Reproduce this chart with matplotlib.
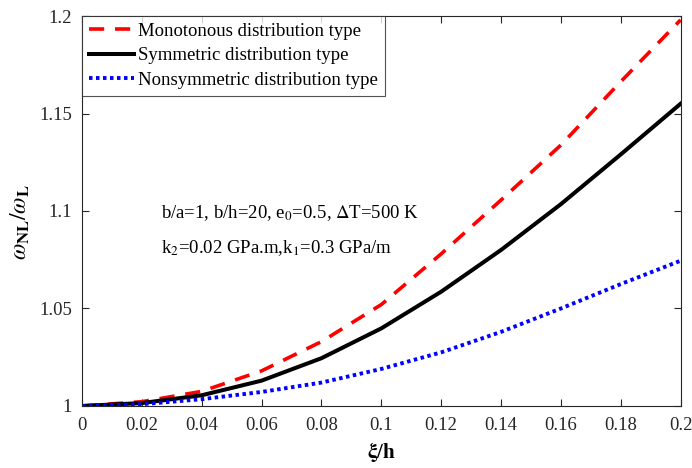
import matplotlib
matplotlib.use('Agg')
import matplotlib.pyplot as plt
from matplotlib.ticker import FuncFormatter

# xi/h values
xi = [0.0, 0.02, 0.04, 0.06, 0.08, 0.10, 0.12, 0.14, 0.16, 0.18, 0.20]

# frequency ratio
mono = [1.0, 1.0022, 1.0075, 1.0180, 1.0330, 1.0520, 1.0780, 1.1056, 1.1338, 1.1663, 1.1980]
sym = [1.0, 1.0015, 1.0055, 1.0130, 1.0245, 1.0398, 1.0586, 1.0800, 1.1035, 1.1290, 1.1550]
nonsym = [1.0, 1.0009, 1.0035, 1.0072, 1.0120, 1.0190, 1.0275, 1.0380, 1.0500, 1.0625, 1.0745]

labels = ['Monotonous distribution type',
          'Symmetric distribution type',
          'Nonsymmetric distribution type']

xticks = [0, 0.02, 0.04, 0.06, 0.08, 0.1, 0.12, 0.14, 0.16, 0.18, 0.2]
yticks = [1, 1.05, 1.1, 1.15, 1.2]

plt.rcParams['font.family'] = ['Liberation Serif', 'DejaVu Serif']
plt.rcParams['mathtext.fontset'] = 'stix'

fig = plt.figure(figsize=(6.92, 4.68), dpi=100)
ax = fig.add_axes([0.1185, 0.1325, 0.865, 0.8333])

ax.plot(xi, mono, color='red', linewidth=2.6, linestyle=(0, (4.2, 3.0)), label=labels[0])
ax.plot(xi, sym, color='black', linewidth=2.9, linestyle='-', label=labels[1])
ax.plot(xi, nonsym, color='blue', linewidth=2.8, linestyle=(0, (0.9, 0.9)),
        dash_capstyle='butt', label=labels[2])

ax.set_xlim(0, 0.2)
ax.set_ylim(1, 1.2)
ax.set_xticks(xticks)
ax.set_yticks(yticks)
fmt = FuncFormatter(lambda v, p: '%g' % round(v, 4))
ax.xaxis.set_major_formatter(fmt)
ax.yaxis.set_major_formatter(fmt)
ax.tick_params(direction='in', top=True, right=True, length=5, width=0.8,
               labelsize=13.5, colors='#262626', labelcolor='#262626')
ax.tick_params(axis='x', pad=8)
ax.tick_params(axis='y', pad=7)
for s in ax.spines.values():
    s.set_color('#262626')
    s.set_linewidth(0.8)

ax.set_xlabel(r'$\mathbf{\xi}$/h', fontsize=15, fontweight='bold', labelpad=4)
ax.set_ylabel(r'$\omega_{\mathbf{NL}}/\omega_{\mathbf{L}}$', fontsize=17)
ax.yaxis.set_label_coords(-0.083, 0.47)

ax.text(0.0265, 1.0963, r'b/a=1, b/h=20, e$_0$=0.5, $\Delta$T=500 K', fontsize=13.5)
ax.text(0.0265, 1.0786, r'k$_2$=0.02 GPa.m,k$_1$=0.3 GPa/m', fontsize=13.5)

leg = ax.legend(loc='upper left', fontsize=13.5, frameon=True, fancybox=False,
                borderaxespad=0, handlelength=2.4, handletextpad=0.25,
                labelspacing=0.4, borderpad=0.35)
leg.get_frame().set_edgecolor('#262626')
leg.get_frame().set_linewidth(0.8)

fig.savefig('out.png', dpi=100)
